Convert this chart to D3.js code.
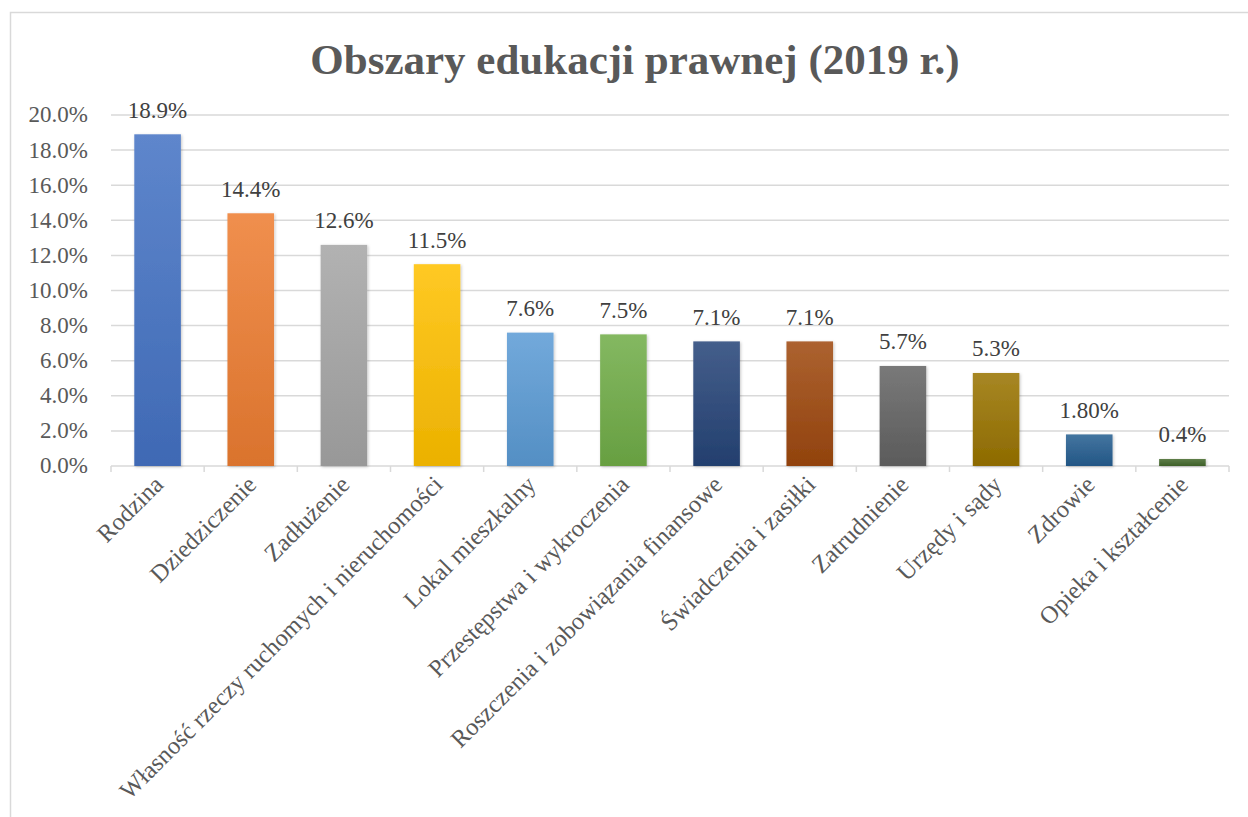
<!DOCTYPE html>
<html>
<head>
<meta charset="utf-8">
<script src="https://cdn.jsdelivr.net/npm/d3@7"></script>
<style>
  body { margin: 0; background: #fff; }
  text { font-family: "Liberation Serif", "Times New Roman", serif; }
</style>
</head>
<body>
<div id="chart"></div>
<script>
// data
var categories = ["Rodzina", "Dziedziczenie", "Zadłużenie", "Własność rzeczy ruchomych i nieruchomości",
    "Lokal mieszkalny", "Przestępstwa i wykroczenia", "Roszczenia i zobowiązania finansowe",
    "Świadczenia i zasiłki", "Zatrudnienie", "Urzędy i sądy", "Zdrowie", "Opieka i kształcenie"];
var values = [18.9, 14.4, 12.6, 11.5, 7.6, 7.5, 7.1, 7.1, 5.7, 5.3, 1.8, 0.4];
var valueLabels = ["18.9%", "14.4%", "12.6%", "11.5%", "7.6%", "7.5%", "7.1%", "7.1%", "5.7%", "5.3%", "1.80%", "0.4%"];
var barColors = ["#4472C4", "#ED7D31", "#A5A5A5", "#FFC000", "#5B9BD5", "#70AD47",
    "#264478", "#9E480E", "#636363", "#997300", "#255E91", "#43682B"];
var yTicks = [0, 2, 4, 6, 8, 10, 12, 14, 16, 18, 20];

var width = 1248, height = 817;
var plot = {left: 111, right: 1229, top: 115, bottom: 466};

var svg = d3.select("#chart")
    .append("svg")
    .attr("width", width)
    .attr("height", height);

var defs = svg.append("defs");

// soft shadow like the office chart
var shadow = defs.append("filter").attr("id", "shadow")
    .attr("x", "-20%").attr("y", "-20%").attr("width", "140%").attr("height", "140%");
shadow.append("feDropShadow")
    .attr("dx", 1).attr("dy", 1).attr("stdDeviation", 1.8)
    .attr("flood-color", "#000").attr("flood-opacity", 0.22);

// gradient for every bar, lighter at the top
barColors.forEach(function(c, i) {
    var g = defs.append("linearGradient").attr("id", "grad" + i)
        .attr("x1", 0).attr("y1", 0).attr("x2", 0).attr("y2", 1);
    g.append("stop").attr("offset", "0%").attr("stop-color", d3.interpolateRgb(c, "#fff")(0.14));
    g.append("stop").attr("offset", "100%").attr("stop-color", d3.interpolateRgb(c, "#000")(0.08));
});

// chart border
svg.append("rect")
    .attr("x", 10.5).attr("y", 12.5)
    .attr("width", 1260).attr("height", 820)
    .attr("fill", "none")
    .attr("stroke", "#d9d9d9")
    .attr("stroke-width", 1.5);

var x = d3.scaleBand()
    .domain(categories)
    .range([plot.left, plot.right])
    .paddingInner(0.5)
    .paddingOuter(0.25);

var y = d3.scaleLinear()
    .domain([0, 20])
    .range([plot.bottom, plot.top]);

// title
svg.append("text")
    .attr("x", 635)
    .attr("y", 74)
    .attr("text-anchor", "middle")
    .style("font-size", "43px")
    .style("font-weight", "bold")
    .style("fill", "#595959")
    .text("Obszary edukacji prawnej (2019 r.)");

// gridlines
svg.append("g")
    .selectAll("line")
    .data(yTicks.slice(1))
    .enter()
    .append("line")
    .attr("x1", plot.left).attr("x2", plot.right)
    .attr("y1", function(d) { return y(d); })
    .attr("y2", function(d) { return y(d); })
    .attr("stroke", "#d9d9d9")
    .attr("stroke-width", 1.5);

// y axis labels
var yAxis = d3.axisLeft(y)
    .tickValues(yTicks)
    .tickSize(0)
    .tickPadding(23)
    .tickFormat(function(d) { return d.toFixed(1) + "%"; });

var yg = svg.append("g")
    .attr("transform", "translate(" + plot.left + ",0)")
    .call(yAxis);
yg.select(".domain").remove();
yg.selectAll("text")
    .style("font-family", "'Liberation Serif', 'Times New Roman', serif")
    .style("font-size", "23px")
    .style("fill", "#595959")
    .attr("dy", "0.3em");

// x axis line and tick marks
var xg = svg.append("g");
xg.append("line")
    .attr("x1", plot.left).attr("x2", plot.right)
    .attr("y1", plot.bottom).attr("y2", plot.bottom)
    .attr("stroke", "#d9d9d9").attr("stroke-width", 1.5);
var step = x.step();
xg.selectAll("line.tick")
    .data(d3.range(categories.length + 1))
    .enter()
    .append("line")
    .attr("class", "tick")
    .attr("x1", function(i) { return plot.left + i * step; })
    .attr("x2", function(i) { return plot.left + i * step; })
    .attr("y1", plot.bottom).attr("y2", plot.bottom + 6)
    .attr("stroke", "#d9d9d9").attr("stroke-width", 1.5);

// bars
svg.append("g")
    .selectAll("rect")
    .data(values)
    .enter()
    .append("rect")
    .attr("x", function(d, i) { return x(categories[i]); })
    .attr("y", function(d) { return y(d); })
    .attr("width", x.bandwidth())
    .attr("height", function(d) { return y(0) - y(d); })
    .attr("fill", function(d, i) { return "url(#grad" + i + ")"; })
    .attr("filter", "url(#shadow)");

// value labels
svg.append("g")
    .selectAll("text")
    .data(values)
    .enter()
    .append("text")
    .attr("x", function(d, i) { return x(categories[i]) + x.bandwidth() / 2; })
    .attr("y", function(d) { return y(d) - 16.5; })
    .attr("text-anchor", "middle")
    .style("font-size", "23px")
    .style("fill", "#404040")
    .text(function(d, i) { return valueLabels[i]; });

// category labels, rotated
svg.append("g")
    .selectAll("text")
    .data(categories)
    .enter()
    .append("text")
    .attr("text-anchor", "end")
    .attr("transform", function(d) {
        var cx = x(d) + x.bandwidth() / 2 + 7;
        return "translate(" + cx + "," + (plot.bottom + 20) + ") rotate(-45)";
    })
    .style("font-size", "24.5px")
    .style("fill", "#595959")
    .text(function(d) { return d; });
</script>
</body>
</html>
